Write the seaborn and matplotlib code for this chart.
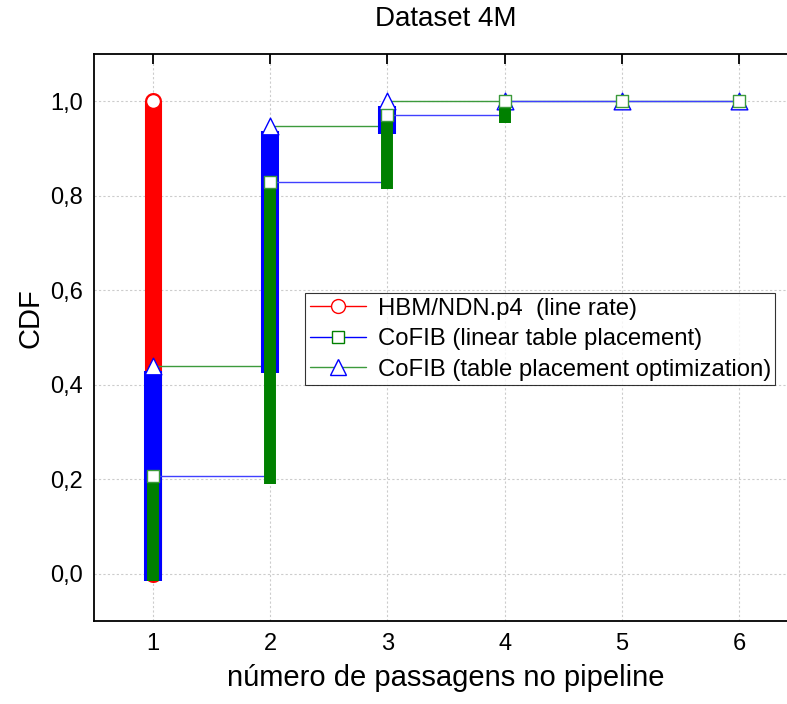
import numpy as np
import pandas as pd
import matplotlib
matplotlib.use("Agg")
import matplotlib.pyplot as plt
import seaborn as sns
from matplotlib.lines import Line2D
from matplotlib.ticker import FuncFormatter, MultipleLocator, FixedLocator

# ---- data ----
passes = [1, 2, 3, 4, 5, 6]
hbm_x = [1, 1]
cdf_hbm = [0.0, 1.0]
cdf_linear = [0.207, 0.83, 0.97, 1.0, 1.0, 1.0]
cdf_opt = [0.44, 0.947, 1.0, 1.0, 1.0, 1.0]
series_labels = ["HBM/NDN.p4  (line rate)",
                 "CoFIB (linear table placement)",
                 "CoFIB (table placement optimization)"]
x_ticks = [1, 2, 3, 4, 5, 6]
y_ticks = [0.0, 0.2, 0.4, 0.6, 0.8, 1.0]

RED = "#ff0000"
BLUE = "#0000ff"
GREEN = "#008000"
LGREEN = "#3c9a3c"
LBLUE = "#4040ff"

sns.set_theme(style="white")
plt.rcParams['font.family'] = ['Liberation Sans', 'DejaVu Sans']
plt.rcParams['text.color'] = 'black'
plt.rcParams['axes.labelcolor'] = 'black'
plt.rcParams['xtick.color'] = 'black'
plt.rcParams['ytick.color'] = 'black'

fig = plt.figure(figsize=(7.87, 7.04), dpi=100)
ax = fig.add_axes([94/787, 83/704, 704/787, 567/704])

BOTTOM_EXT = 0.016  # visual extension of thick bars below their start


def draw_steps(xs, ys, bar_color, bar_w, line_color, z, top_trim):
    prev = 0.0
    for i, (x, y) in enumerate(zip(xs, ys)):
        if y > prev:
            ax.plot([x, x], [prev - BOTTOM_EXT, y - top_trim], color=bar_color, lw=bar_w,
                    solid_capstyle="butt", zorder=z)
        if i + 1 < len(xs):
            ax.plot([x, xs[i + 1]], [y, y], color=line_color, lw=1.0,
                    solid_capstyle="butt", zorder=z)
        prev = y


# HBM (red)
ax.plot(hbm_x, cdf_hbm, color=RED, lw=12.3, solid_capstyle="round", zorder=2)
sns.scatterplot(x=hbm_x, y=cdf_hbm, marker="o", s=10**2, color="white",
                edgecolor=RED, linewidth=1.0, ax=ax, zorder=3, legend=False)

# CoFIB optimization (blue bars, green lines, blue triangles)
draw_steps(passes, cdf_opt, BLUE, 13.0, LGREEN, 4, 0.01)
sns.scatterplot(x=passes, y=cdf_opt, marker="^", s=12**2, color="white",
                edgecolor=BLUE, linewidth=1.0, ax=ax, zorder=5, legend=False)

# CoFIB linear (green bars, blue lines, green squares)
draw_steps(passes, cdf_linear, GREEN, 8.6, LBLUE, 6, 0.0)
sns.scatterplot(x=passes, y=cdf_linear, marker="s", s=8.3**2, color="white",
                edgecolor=LGREEN, linewidth=1.0, ax=ax, zorder=7, legend=False)

ax.set_xlim(0.5, 6.5)
ax.set_ylim(-0.1, 1.1)
ax.xaxis.set_major_locator(FixedLocator(x_ticks))
ax.yaxis.set_major_locator(FixedLocator(y_ticks))
ax.yaxis.set_minor_locator(MultipleLocator(0.1))
ax.yaxis.set_major_formatter(FuncFormatter(lambda v, p: f"{v:.1f}".replace(".", ",")))

ax.grid(True, which="major", color="#cccccc", linestyle=(0, (2, 2)), linewidth=0.8)
ax.set_axisbelow(True)
for sp in ax.spines.values():
    sp.set_color("black")
    sp.set_linewidth(1.3)
ax.tick_params(which="both", direction="in", top=True, right=True,
               colors="black", width=1.3, labelsize=17)
ax.tick_params(which="major", length=7)
ax.tick_params(which="minor", length=6)
ax.tick_params(axis="x", pad=9)
ax.tick_params(axis="y", pad=8)

ax.set_xlabel("número de passagens no pipeline", fontsize=21, labelpad=6)
ax.set_ylabel("CDF", fontsize=21)
ax.yaxis.set_label_coords(-0.071, 0.534)
ax.set_title("Dataset 4M", fontsize=20, pad=20)

handles = [
    Line2D([], [], color=RED, lw=1, marker="o", ms=10, mfc="white", mec=RED, mew=1),
    Line2D([], [], color=BLUE, lw=1, marker="s", ms=8.3, mfc="white", mec=GREEN, mew=1),
    Line2D([], [], color=LGREEN, lw=1, marker="^", ms=12, mfc="white", mec=BLUE, mew=1),
]
leg = ax.legend(handles, series_labels, loc="upper left", bbox_to_anchor=(0.30, 0.578),
                borderaxespad=0, fontsize=17.2, frameon=True, fancybox=False,
                edgecolor="black", handlelength=2.35, handletextpad=0.5,
                labelspacing=0.36, borderpad=0.18)
leg.get_frame().set_linewidth(0.8)

fig.savefig("out.png", dpi=100)
